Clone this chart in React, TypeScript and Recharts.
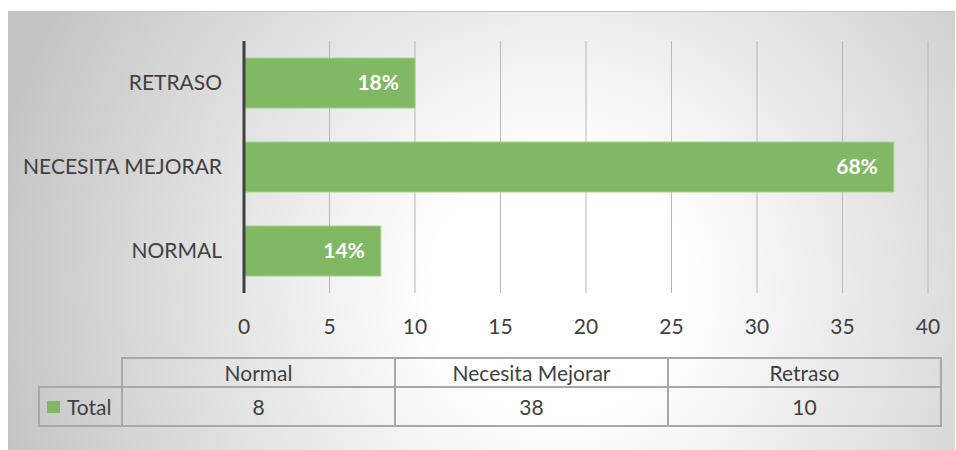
import React from 'react';
import { BarChart, Bar, XAxis, YAxis, CartesianGrid, LabelList } from 'recharts';

const categories = ['NORMAL', 'NECESITA MEJORAR', 'RETRASO'];
const tableHeaders = ['Normal', 'Necesita Mejorar', 'Retraso'];
const totals = [8, 38, 10];
const percentLabels = ['14%', '68%', '18%'];
const xTicks = [0, 5, 10, 15, 20, 25, 30, 35, 40];
const seriesName = 'Total';

const data = categories.map((c, i) => ({ category: c, total: totals[i], pct: percentLabels[i] }));

const FONT = 'Lato, "Open Sans", sans-serif';
const TEXT = '#404040';
const GREEN = '#81b863';
const BORDER = '#a8a8a8';

export default function App() {
  const cellBase: React.CSSProperties = {
    position: 'absolute',
    boxSizing: 'border-box',
    border: `2px solid ${BORDER}`,
    display: 'flex',
    alignItems: 'center',
    justifyContent: 'center',
    fontFamily: FONT,
    fontSize: 21,
    color: TEXT,
  };
  return (
    <div style={{ position: 'fixed', left: 0, top: 0, width: 956, height: 450, overflow: 'hidden', background: '#fff' }}>
      <div
        style={{
          position: 'absolute',
          left: 8,
          top: 11,
          width: 947,
          height: 445,
          boxSizing: 'border-box',
          borderTop: '1px solid #c4c4c4',
          background: 'radial-gradient(circle 580px at 552px 275px, #ffffff 0%, #ffffff 22%, #c4c4c4 100%)',
        }}
      />
      <div style={{ position: 'absolute', left: 0, top: 0 }}>
        <BarChart
          width={956}
          height={450}
          data={data}
          layout="vertical"
          margin={{ top: 41, right: 28, bottom: 117, left: 0 }}
          barCategoryGap={17}
        >
          <CartesianGrid horizontal={false} vertical stroke="#b8b8b8" strokeWidth={1} />
          <XAxis
            type="number"
            domain={[0, 40]}
            ticks={xTicks}
            height={40}
            axisLine={false}
            tickLine={false}
            tickSize={0}
            tickMargin={26}
            interval={0}
            tick={{ fill: TEXT, fontSize: 21, fontFamily: FONT }}
          />
          <YAxis
            type="category"
            dataKey="category"
            reversed
            width={244}
            axisLine={{ stroke: '#404040', strokeWidth: 3 }}
            tickLine={false}
            tickSize={0}
            tickMargin={22}
            tick={{ fill: TEXT, fontSize: 21, fontFamily: FONT }}
          />
          <Bar dataKey="total" fill={GREEN} stroke="#a9d18e" strokeWidth={1} barSize={50} isAnimationActive={false}>
            <LabelList
              dataKey="pct"
              position="insideRight"
              offset={16}
              fill="#ffffff"
              fontSize={21}
              fontWeight="bold"
              fontFamily={FONT}
            />
          </Bar>
        </BarChart>
      </div>
      {tableHeaders.map((h, i) => (
        <div key={'h' + i} style={{ ...cellBase, left: 121 + i * 273, top: 357, width: 275, height: 31 }}>
          {h}
        </div>
      ))}
      <div style={{ ...cellBase, left: 38, top: 386, width: 85, height: 41, justifyContent: 'flex-start', paddingLeft: 7 }}>
        <span style={{ display: 'inline-block', width: 13, height: 12, background: GREEN, marginRight: 7 }} />
        {seriesName}
      </div>
      {totals.map((v, i) => (
        <div key={'v' + i} style={{ ...cellBase, left: 121 + i * 273, top: 386, width: 275, height: 41 }}>
          {v}
        </div>
      ))}
    </div>
  );
}
